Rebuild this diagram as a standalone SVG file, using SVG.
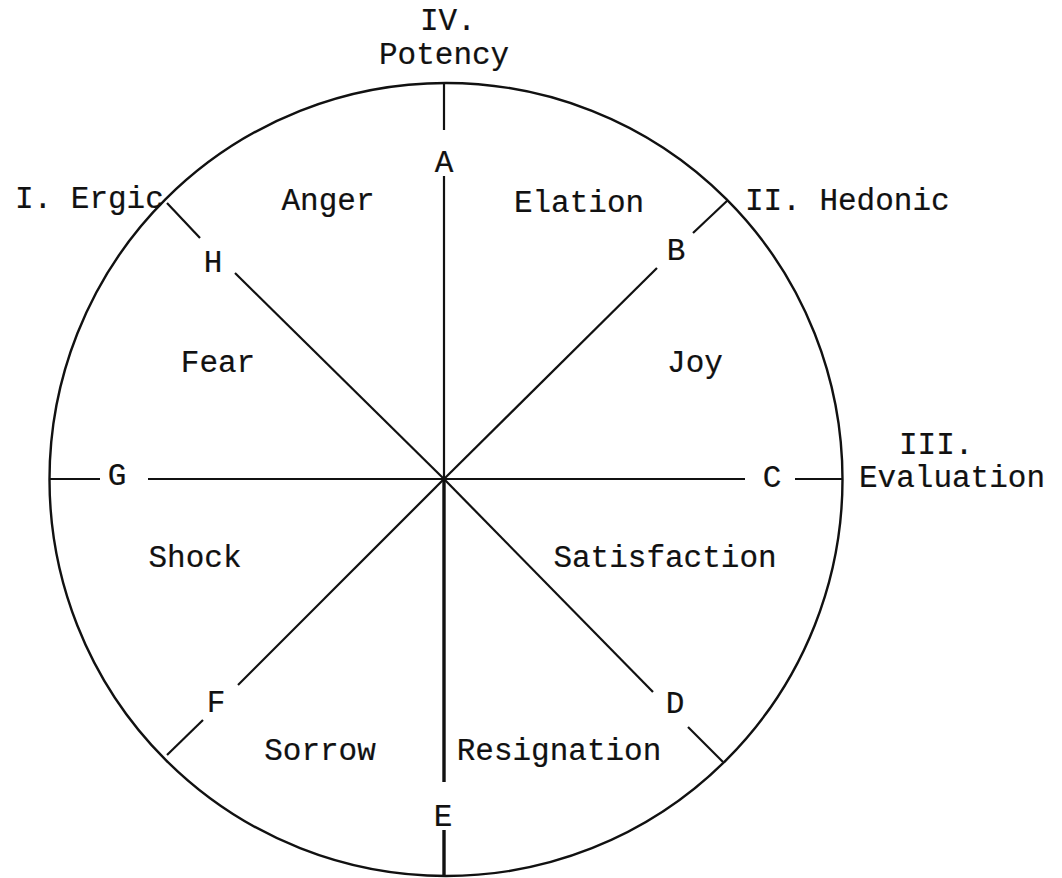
<svg xmlns="http://www.w3.org/2000/svg" width="1062" height="878" viewBox="0 0 1062 878">
<style>
text{font-family:"Liberation Mono","Courier New",monospace;font-size:31px;fill:#111;stroke:#111;stroke-width:0.2}
.m{text-anchor:middle}
.ln{stroke:#111;stroke-width:2.2;fill:none;stroke-linecap:butt}
.thick{stroke-width:3.4}
</style>
<rect width="1062" height="878" fill="#fff"/>
<g id="circle"><circle cx="446" cy="479.5" r="396.5" fill="none" stroke="#111" stroke-width="2.4"/></g>
<g id="connectors">
<line class="ln" x1="444" y1="83" x2="444" y2="130"/>
<line class="ln" x1="444" y1="176" x2="444" y2="479"/>
<line class="ln thick" x1="444" y1="479" x2="444" y2="782"/>
<line class="ln thick" x1="444" y1="830" x2="444" y2="876"/>
<line class="ln" x1="50" y1="479" x2="100" y2="479"/>
<line class="ln" x1="148" y1="479" x2="444" y2="479"/>
<line class="ln" x1="444" y1="479" x2="745" y2="479"/>
<line class="ln" x1="795" y1="479" x2="843" y2="479"/>
<line class="ln" x1="167" y1="203" x2="200" y2="238"/>
<line class="ln" x1="235" y1="273" x2="444" y2="479"/>
<line class="ln" x1="728" y1="200" x2="693" y2="233"/>
<line class="ln" x1="657" y1="268" x2="444" y2="479"/>
<line class="ln" x1="167" y1="755" x2="203" y2="720"/>
<line class="ln" x1="238" y1="685" x2="444" y2="479"/>
<line class="ln" x1="723" y1="762" x2="688" y2="727"/>
<line class="ln" x1="653" y1="692" x2="444" y2="479"/>
</g>
<g id="axis-IV"><text x="420" y="30">IV.</text><text x="379" y="64">Potency</text></g>
<g id="axis-I"><text x="15" y="208">I. Ergic</text></g>
<g id="axis-II"><text x="745" y="210">II. Hedonic</text></g>
<g id="axis-III"><text x="899" y="454">III.</text><text x="859" y="487">Evaluation</text></g>
<g id="A"><text class="m" x="444" y="172">A</text></g>
<g id="B"><text class="m" x="676" y="260">B</text></g>
<g id="C"><text class="m" x="772" y="487">C</text></g>
<g id="D"><text class="m" x="675" y="713">D</text></g>
<g id="E"><text class="m" x="443" y="826">E</text></g>
<g id="F"><text class="m" x="216" y="712">F</text></g>
<g id="G"><text class="m" x="117" y="485">G</text></g>
<g id="H"><text class="m" x="213" y="272">H</text></g>
<g id="anger"><text class="m" x="328" y="210">Anger</text></g>
<g id="elation"><text class="m" x="579" y="212">Elation</text></g>
<g id="fear"><text class="m" x="218" y="372">Fear</text></g>
<g id="joy"><text class="m" x="695" y="372">Joy</text></g>
<g id="shock"><text class="m" x="195" y="567">Shock</text></g>
<g id="satisfaction"><text class="m" x="665" y="567">Satisfaction</text></g>
<g id="sorrow"><text class="m" x="320" y="760">Sorrow</text></g>
<g id="resignation"><text class="m" x="559" y="760">Resignation</text></g>
</svg>
